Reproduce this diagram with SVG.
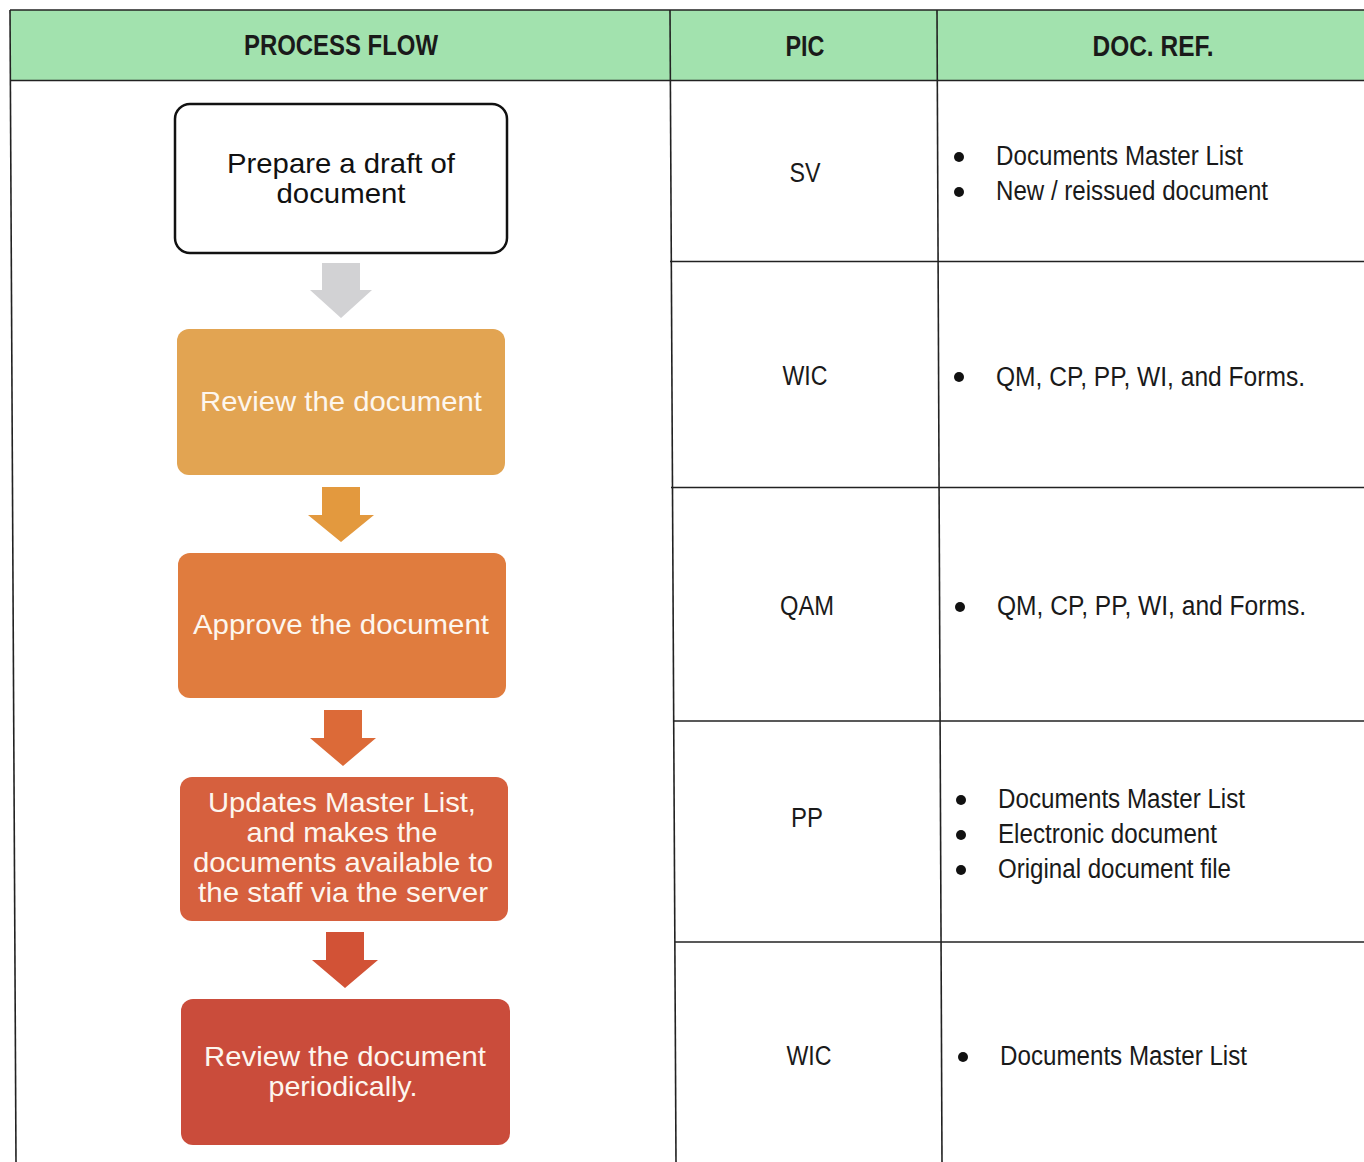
<svg xmlns="http://www.w3.org/2000/svg" width="1364" height="1162" viewBox="0 0 1364 1162">
<style>
.grid{stroke:#222;stroke-width:1.6;fill:none}
.hd{font-family:"Liberation Sans Narrow","Liberation Sans",Arial,sans-serif;font-weight:bold;font-size:29px;fill:#1a1a1a;text-anchor:middle}
.cell{font-family:"Liberation Sans Narrow","Liberation Sans",Arial,sans-serif;font-size:27px;fill:#1a1a1a}
.pic{text-anchor:middle}
.ft{font-family:"Liberation Sans",Arial,sans-serif;font-size:28px;text-anchor:middle}
.wt{fill:#fdf6ee}
.bk{fill:#111}
.dot{fill:#111}
</style>
<rect x="0" y="0" width="1364" height="1162" fill="#ffffff"/>
<g id="table">
<rect x="10" y="10" width="1354" height="70" fill="#a2e2ae"/>
<line class="grid" x1="10" y1="10" x2="1364" y2="10"/>
<line class="grid" x1="10" y1="80.5" x2="1364" y2="80.5"/>
<line class="grid" x1="670" y1="261.5" x2="1364" y2="261.5"/>
<line class="grid" x1="671" y1="487.5" x2="1364" y2="487.5"/>
<line class="grid" x1="673" y1="721" x2="1364" y2="721"/>
<line class="grid" x1="675" y1="942" x2="1364" y2="942"/>
<line class="grid" x1="10" y1="10" x2="16" y2="1162"/>
<line class="grid" x1="670" y1="10" x2="676" y2="1162"/>
<line class="grid" x1="937" y1="10" x2="942" y2="1162"/>
<text class="hd" x="341" y="55" textLength="194" lengthAdjust="spacingAndGlyphs">PROCESS FLOW</text>
<text class="hd" x="805" y="56" textLength="39" lengthAdjust="spacingAndGlyphs">PIC</text>
<text class="hd" x="1153" y="56" textLength="121" lengthAdjust="spacingAndGlyphs">DOC. REF.</text>
</g>
<g id="pic-col">
<text class="cell pic" x="805" y="182" textLength="31" lengthAdjust="spacingAndGlyphs">SV</text>
<text class="cell pic" x="805" y="385" textLength="45" lengthAdjust="spacingAndGlyphs">WIC</text>
<text class="cell pic" x="807" y="615" textLength="54" lengthAdjust="spacingAndGlyphs">QAM</text>
<text class="cell pic" x="807" y="827" textLength="32" lengthAdjust="spacingAndGlyphs">PP</text>
<text class="cell pic" x="809" y="1065" textLength="45" lengthAdjust="spacingAndGlyphs">WIC</text>
</g>
<g id="docref-col">
<circle class="dot" cx="959" cy="157" r="5"/>
<text class="cell" x="996" y="165" textLength="247" lengthAdjust="spacingAndGlyphs">Documents Master List</text>
<circle class="dot" cx="959" cy="192" r="5"/>
<text class="cell" x="996" y="200" textLength="272" lengthAdjust="spacingAndGlyphs">New / reissued document</text>
<circle class="dot" cx="959" cy="377" r="5"/>
<text class="cell" x="996" y="386" textLength="309" lengthAdjust="spacingAndGlyphs">QM, CP, PP, WI, and Forms.</text>
<circle class="dot" cx="960" cy="607" r="5"/>
<text class="cell" x="997" y="615" textLength="309" lengthAdjust="spacingAndGlyphs">QM, CP, PP, WI, and Forms.</text>
<circle class="dot" cx="961" cy="800" r="5"/>
<text class="cell" x="998" y="808" textLength="247" lengthAdjust="spacingAndGlyphs">Documents Master List</text>
<circle class="dot" cx="961" cy="835" r="5"/>
<text class="cell" x="998" y="843" textLength="219" lengthAdjust="spacingAndGlyphs">Electronic document</text>
<circle class="dot" cx="961" cy="870" r="5"/>
<text class="cell" x="998" y="878" textLength="233" lengthAdjust="spacingAndGlyphs">Original document file</text>
<circle class="dot" cx="963" cy="1057" r="5"/>
<text class="cell" x="1000" y="1065" textLength="247" lengthAdjust="spacingAndGlyphs">Documents Master List</text>
</g>
<g id="connectors">
<polygon points="322,263 360,263 360,290 372,290 341,318 310,290 322,290" fill="#d2d2d4"/>
<polygon points="322,487 360,487 360,515 374,515 341,542 308,515 322,515" fill="#e3993e"/>
<polygon points="324,710 362,710 362,738 376,738 343,766 310,738 324,738" fill="#dc6a38"/>
<polygon points="326,932 364,932 364,960 378,960 345,988 312,960 326,960" fill="#d25236"/>
</g>
<g id="n1">
<rect x="175" y="104" width="332" height="149" rx="15" fill="#ffffff" stroke="#111" stroke-width="2.5"/>
<text class="ft bk" x="341" y="173" textLength="228" lengthAdjust="spacingAndGlyphs">Prepare a draft of</text>
<text class="ft bk" x="341" y="203" textLength="129" lengthAdjust="spacingAndGlyphs">document</text>
</g>
<g id="n2">
<rect x="177" y="329" width="328" height="146" rx="12" fill="#e2a452"/>
<text class="ft wt" x="341" y="411" textLength="282" lengthAdjust="spacingAndGlyphs">Review the document</text>
</g>
<g id="n3">
<rect x="178" y="553" width="328" height="145" rx="12" fill="#e07c3e"/>
<text class="ft wt" x="341" y="634" textLength="296" lengthAdjust="spacingAndGlyphs">Approve the document</text>
</g>
<g id="n4">
<rect x="180" y="777" width="328" height="144" rx="12" fill="#d6603e"/>
<text class="ft wt" x="342" y="812" textLength="268" lengthAdjust="spacingAndGlyphs">Updates Master List,</text>
<text class="ft wt" x="342" y="842" textLength="191" lengthAdjust="spacingAndGlyphs">and makes the</text>
<text class="ft wt" x="343" y="872" textLength="300" lengthAdjust="spacingAndGlyphs">documents available to</text>
<text class="ft wt" x="343" y="902" textLength="290" lengthAdjust="spacingAndGlyphs">the staff via the server</text>
</g>
<g id="n5">
<rect x="181" y="999" width="329" height="146" rx="12" fill="#ca4c3b"/>
<text class="ft wt" x="345" y="1066" textLength="282" lengthAdjust="spacingAndGlyphs">Review the document</text>
<text class="ft wt" x="343" y="1096" textLength="149" lengthAdjust="spacingAndGlyphs">periodically.</text>
</g>
</svg>
